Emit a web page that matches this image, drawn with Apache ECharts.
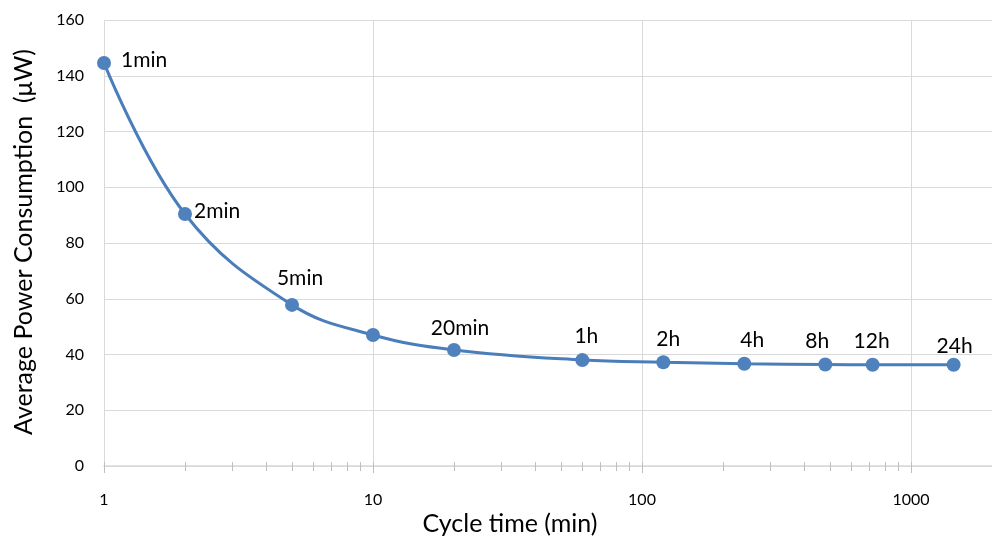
<!DOCTYPE html>
<html>
<head>
<meta charset="utf-8">
<script src="https://cdn.jsdelivr.net/npm/echarts@6/dist/echarts.min.js"></script>
<style>html,body{margin:0;padding:0;background:#fff}#c{width:992px;height:538px}</style>
</head>
<body>
<div id="c"></div>
<script>
var cycleMinutes = [1, 2, 5, 10, 20, 60, 120, 240, 480, 720, 1440];
var powerUW = [144.6, 90.4, 57.8, 47.0, 41.6, 38.0, 37.2, 36.7, 36.4, 36.3, 36.3];
var pointLabels = ['1min', '2min', '5min', '', '20min', '1h', '2h', '4h', '8h', '12h', '24h'];
var labelSide = ['right', 'right', 'top', 'top', 'top', 'top', 'top', 'top', 'top', 'top', 'top'];
var labelGap = [10, 2, 6, 6, 6, 6, 6, 6, 6, 6, 1];
var labelShiftX = [0, 0, 8, 0, 6, 4, 5, 8, -8, -1, 1];
var labelShiftY = [-3, -3, -3, 0, 2, 0, 0, 0, 0, 0, 0];
var xMajorTicks = [1, 10, 100, 1000];
var xMinorTicks = [2,3,4,5,6,7,8,9,20,30,40,50,60,70,80,90,200,300,400,500,600,700,800,900];
var yTicks = [0, 20, 40, 60, 80, 100, 120, 140, 160];

var FONT = 'Lato, "Open Sans", sans-serif';
var allTicks = xMajorTicks.concat(xMinorTicks).sort(function(a,b){return a-b;});

var seriesData = cycleMinutes.map(function (m, i) {
  return {
    value: [m, powerUW[i]],
    label: {
      show: pointLabels[i] !== '',
      formatter: pointLabels[i],
      position: labelSide[i],
      distance: labelGap[i],
      offset: [labelShiftX[i], labelShiftY[i]]
    }
  };
});

var chart = echarts.init(document.getElementById('c'), null, {renderer: 'canvas'});
chart.setOption({
  animation: false,
  grid: {left: 104, right: 0, top: 20, bottom: 72, containLabel: false},
  xAxis: [{
    type: 'log', logBase: 10, min: 1, max: 2000,
    axisLine: {show: true, lineStyle: {color: '#d9d9d9', width: 1.5}},
    axisTick: {show: true, length: 7, customValues: xMajorTicks, lineStyle: {color: '#bfbfbf'}},
    axisLabel: {customValues: xMajorTicks, formatter: function (v) { return String(Math.round(v)); },
      color: '#000', fontSize: 16, fontFamily: FONT, margin: 26},
    splitLine: {show: true, lineStyle: {color: '#d9d9d9', width: 1}},
    minorTick: {show: false}
  }, {
    type: 'log', logBase: 10, min: 1, max: 2000, position: 'bottom',
    axisLine: {show: false},
    axisTick: {show: true, length: 5, customValues: xMinorTicks, lineStyle: {color: '#bfbfbf'}},
    axisLabel: {show: false},
    splitLine: {show: false}
  }, {
    type: 'log', logBase: 10, min: 1, max: 2000, position: 'bottom',
    axisLine: {show: false},
    axisTick: {show: true, inside: true, length: 4, customValues: allTicks, lineStyle: {color: '#bfbfbf'}},
    axisLabel: {show: false},
    splitLine: {show: false}
  }],
  yAxis: {
    type: 'value', min: 0, max: 160, interval: 20,
    axisLine: {show: false},
    axisTick: {show: false},
    axisLabel: {color: '#000', fontSize: 16, fontFamily: FONT, margin: 20},
    splitLine: {show: true, lineStyle: {color: '#d9d9d9', width: 1}}
  },
  graphic: [{
    type: 'text', x: 510, y: 524,
    style: {text: 'Cycle time (min)', fontSize: 25, fontFamily: FONT, fill: '#000', align: 'center', verticalAlign: 'middle'}
  }, {
    type: 'text', x: 24, y: 242, rotation: Math.PI / 2,
    style: {text: 'Average Power Consumption  (\u03bcW)', fontSize: 25, fontFamily: FONT, fill: '#000', align: 'center', verticalAlign: 'middle'}
  }],
  series: [{
    type: 'line',
    xAxisIndex: 0,
    data: seriesData,
    smooth: 0.4,
    symbol: 'circle',
    symbolSize: 14,
    lineStyle: {color: '#4a7ebb', width: 3},
    itemStyle: {color: '#4f81bd'},
    label: {color: '#000', fontSize: 21, fontFamily: FONT}
  }]
});
</script>
</body>
</html>
